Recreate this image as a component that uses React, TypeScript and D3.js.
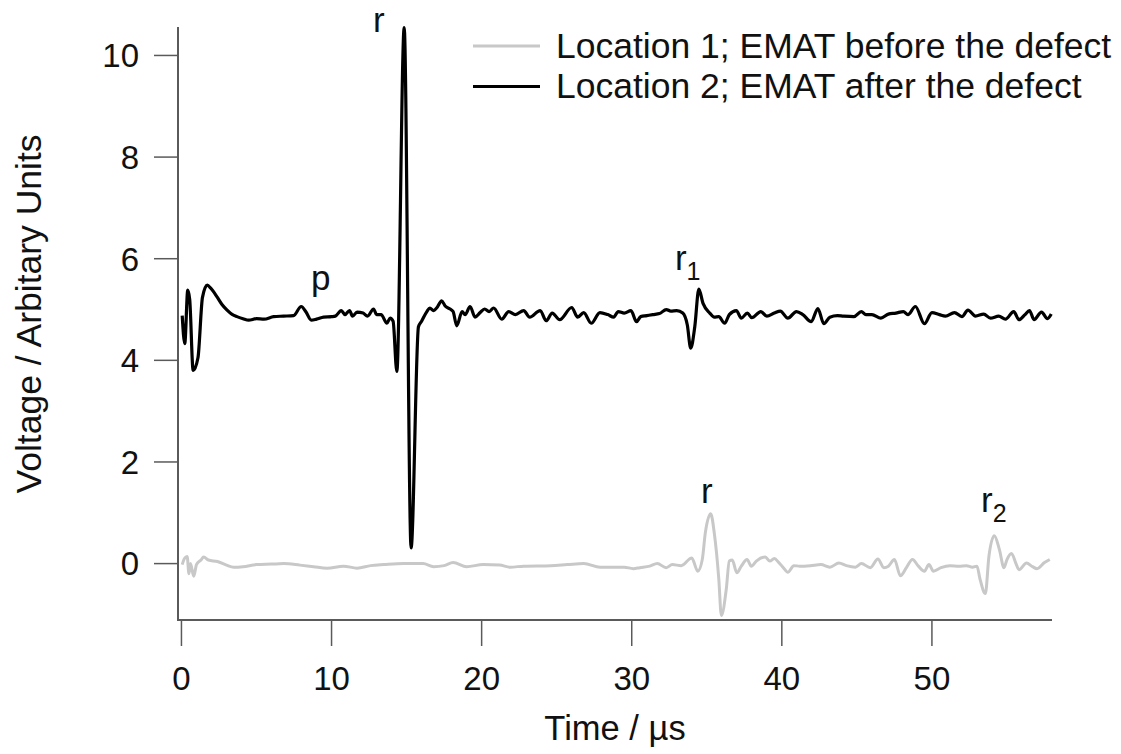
import React from "react";
import * as d3 from "d3";

// Location 2 (EMAT after the defect) — black trace
const loc2Time = [0.05,0.22,0.42,0.55,0.78,1.1,1.4,1.72,1.95,2.37,2.7,3.04,3.4,3.7,4.1,4.48,5.0,5.5,6.14,6.8,7.47,7.98,8.3,8.65,9.0,9.47,10.0,10.25,10.65,10.9,11.2,11.4,11.7,12.1,12.4,12.8,13.0,13.3,13.69,13.9,14.1,14.35,14.84,15.3,15.79,16.0,16.35,16.55,16.8,17.0,17.34,17.57,17.9,18.1,18.34,18.7,18.9,19.23,19.56,19.9,20.2,20.5,20.8,21.34,21.8,22.25,22.8,23.2,23.9,24.3,24.7,25.2,26.0,26.4,26.8,27.3,27.88,28.4,28.8,29.1,29.5,29.95,30.32,30.6,31.0,31.4,31.85,32.3,32.6,33.0,33.4,33.7,33.93,34.2,34.47,34.75,35.2,35.5,35.8,36.19,36.5,36.97,37.3,37.7,38.0,38.6,39.0,39.5,39.9,40.4,40.97,41.4,41.96,42.4,42.8,43.2,43.7,44.1,44.8,45.3,45.6,46.0,46.6,47.1,47.6,48.1,48.4,48.9,49.5,50.0,50.5,50.9,51.5,52.0,52.4,52.9,53.45,53.9,54.45,54.9,55.45,55.8,56.2,56.5,56.8,57.3,57.7,57.95];
const loc2Volt = [4.88,4.33,5.38,5.2,3.80,4.05,5.24,5.48,5.42,5.25,5.1,4.99,4.9,4.86,4.82,4.79,4.82,4.81,4.86,4.87,4.88,5.06,4.95,4.79,4.81,4.85,4.86,4.87,4.98,4.9,4.98,4.87,4.95,4.93,4.87,5.01,4.9,4.9,4.73,4.83,4.77,3.78,10.55,0.31,4.66,4.77,4.96,5.03,4.98,5.03,5.17,5.07,5.01,4.96,4.68,4.96,4.9,5.06,4.85,4.94,5.01,4.96,5.03,4.81,4.96,4.9,4.98,4.85,4.98,4.78,4.93,4.8,5.04,4.85,4.94,4.73,4.94,4.9,4.85,4.96,4.93,4.98,4.76,4.86,4.88,4.9,4.92,5.0,4.97,4.98,4.93,4.7,4.24,4.66,5.40,5.12,4.93,4.85,4.86,4.73,4.9,4.98,4.83,4.93,4.84,4.96,4.87,4.93,4.97,4.83,4.96,4.9,4.76,5.02,4.72,4.85,4.88,4.87,4.86,4.96,4.9,4.9,4.83,4.91,4.93,4.96,4.9,5.06,4.72,4.94,4.9,4.87,4.94,4.86,4.99,4.87,4.91,4.83,4.87,4.81,4.96,4.8,4.9,4.98,4.8,4.95,4.82,4.91];

// Location 1 (EMAT before the defect) — gray trace
const loc1Time = [0.05,0.2,0.38,0.5,0.6,0.82,1.0,1.3,1.48,1.8,2.4,3.0,3.48,4.1,5.0,6.0,6.8,7.9,8.8,9.7,10.8,11.7,12.6,13.5,14.8,16.1,16.8,17.5,18.1,19.0,20.1,21.2,21.9,22.8,24.6,25.7,26.8,27.9,29.5,30.1,30.54,31.2,31.7,32.3,32.7,33.3,34.0,34.4,34.7,34.9,35.26,35.5,35.8,35.97,36.3,36.5,36.7,37.0,37.3,37.68,37.97,38.3,38.9,39.2,39.5,39.8,40.1,40.4,40.8,41.2,41.9,42.6,43.2,43.8,44.3,44.9,45.3,45.9,46.4,46.8,47.1,47.5,47.9,48.3,48.7,49.1,49.5,49.8,50.1,50.6,51.2,51.8,52.3,52.7,53.0,53.2,53.56,53.8,54.16,54.5,54.8,55.0,55.3,55.6,55.8,56.3,56.7,57.0,57.5,57.85];
const loc1Volt = [-0.02,0.1,0.14,-0.2,0.0,-0.25,-0.02,0.07,0.13,0.07,0.04,-0.03,-0.07,-0.06,-0.02,-0.01,0.0,-0.03,-0.06,-0.09,-0.05,-0.09,-0.04,-0.02,0.0,0.0,-0.06,-0.04,0.02,-0.06,-0.02,-0.03,-0.07,-0.05,-0.04,-0.02,0.0,-0.07,-0.07,-0.1,-0.08,-0.05,0.0,-0.08,-0.02,-0.04,0.11,-0.15,0.08,0.6,0.98,0.6,-0.3,-1.02,-0.5,0.05,0.07,-0.18,-0.05,0.08,-0.05,0.05,0.13,0.05,0.1,0.02,-0.08,-0.17,-0.04,-0.05,-0.04,-0.02,-0.07,0.01,-0.04,-0.07,0.0,-0.08,0.09,-0.08,-0.05,0.08,-0.24,-0.08,0.08,-0.05,-0.15,-0.02,-0.15,-0.08,-0.04,-0.05,-0.04,-0.07,-0.05,-0.3,-0.59,0.15,0.55,0.27,-0.08,0.08,0.2,0.0,-0.12,0.01,-0.06,-0.1,0.02,0.08];

const xTicks = [0, 10, 20, 30, 40, 50];
const yTicks = [0, 2, 4, 6, 8, 10];
const legendLabels = ["Location 1; EMAT before the defect", "Location 2; EMAT after the defect"];
const seriesColors = ["#c8c8c8", "#000000"];

// annotation labels: main text, subscript, anchor time, anchor voltage (baseline)
const annoText = ["r", "p", "r", "r", "r"];
const annoSub = ["", "", "1", "", "2"];
const annoTime = [12.76, 8.63, 32.88, 34.61, 53.27];
const annoVolt = [10.46, 5.385, 5.78, 1.19, 1.015];

const FONT = "'Liberation Sans', Arial, Helvetica, sans-serif";

export default function App() {
  const W = 1121, H = 754;
  const left = 178, right = 1052, top = 27, bottom = 620;
  const x = d3.scaleLinear().domain([-0.23, 58.0]).range([left, right]);
  const y = d3.scaleLinear().domain([-1.11, 10.56]).range([bottom, top]);

  const line = d3.line<[number, number]>()
    .x(d => x(d[0]))
    .y(d => y(d[1]))
    .curve(d3.curveMonotoneX);

  const loc1 = loc1Time.map((t, i) => [t, loc1Volt[i]] as [number, number]);
  const loc2 = loc2Time.map((t, i) => [t, loc2Volt[i]] as [number, number]);

  const axisColor = "#5a5a5a";

  return (
    <svg width={W} height={H} style={{ position: "absolute", left: 0, top: 0, background: "#fff" }} fontFamily={FONT}>
      <rect x={0} y={0} width={W} height={H} fill="#fff" />
      {/* series */}
      <path d={line(loc1) || ""} fill="none" stroke={seriesColors[0]} strokeWidth={3} strokeLinejoin="round" />
      <path d={line(loc2) || ""} fill="none" stroke={seriesColors[1]} strokeWidth={3.2} strokeLinejoin="round" />

      {/* axes */}
      <line x1={left} x2={left} y1={top} y2={bottom + 1} stroke={axisColor} strokeWidth={2} />
      <line x1={left} x2={right} y1={bottom} y2={bottom} stroke={axisColor} strokeWidth={2} />
      {yTicks.map(v => (
        <g key={"y" + v}>
          <line x1={left - 24} x2={left} y1={y(v)} y2={y(v)} stroke={axisColor} strokeWidth={1.5} />
          <text x={left - 39} y={y(v)} dy="0.36em" textAnchor="end" fontSize={33} fill="#111">{v}</text>
        </g>
      ))}
      {xTicks.map(t => (
        <g key={"x" + t}>
          <line x1={x(t)} x2={x(t)} y1={bottom} y2={bottom + 26} stroke={axisColor} strokeWidth={1.5} />
          <text x={x(t)} y={690} textAnchor="middle" fontSize={33} fill="#111">{t}</text>
        </g>
      ))}
      <text x={(left + right) / 2} y={740} textAnchor="middle" fontSize={34.5} fill="#111">Time / µs</text>
      <text transform={`translate(41,314) rotate(-90)`} textAnchor="middle" fontSize={35.5} fill="#111">Voltage / Arbitary Units</text>

      {/* legend */}
      {legendLabels.map((lab, i) => (
        <g key={lab}>
          <line x1={473} x2={540} y1={46 + i * 40.5} y2={46 + i * 40.5} stroke={seriesColors[i]} strokeWidth={3} />
          <text x={556} y={57.5 + i * 40.5} fontSize={35.5} fill="#111">{lab}</text>
        </g>
      ))}

      {/* annotations */}
      {annoText.map((s, i) => (
        <text key={"a" + i} x={x(annoTime[i])} y={y(annoVolt[i])} fontSize={35} fill="#111">
          {s}
          {annoSub[i] ? <tspan fontSize={25} dy={10}>{annoSub[i]}</tspan> : null}
        </text>
      ))}
    </svg>
  );
}
